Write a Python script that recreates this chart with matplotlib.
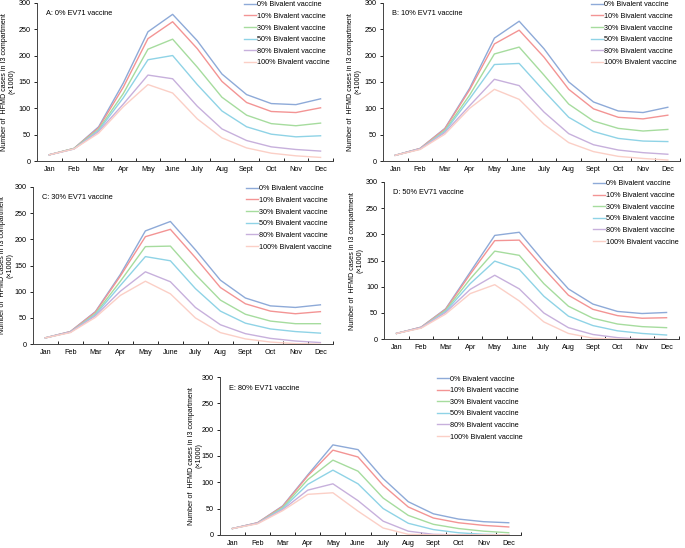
import matplotlib
matplotlib.use('Agg')
import matplotlib.pyplot as plt

plt.rcParams['font.family'] = ['Liberation Sans', 'DejaVu Sans']

months = ['Jan', 'Feb', 'Mar', 'Apr', 'May', 'June', 'July', 'Aug', 'Sept', 'Oct', 'Nov', 'Dec']
series_names = ['0% Bivalent vaccine', '10% Bivalent vaccine', '30% Bivalent vaccine',
                '50% Bivalent vaccine', '80% Bivalent vaccine', '100% Bivalent vaccine']
colors = ['#8eaad8', '#f39494', '#a6dc9e', '#8fd3e6', '#c7b0dc', '#fbcfc6']

# A: 0% EV71 vaccine
panel_a = [
    [12, 24, 65, 148, 245, 278, 228, 165, 126, 109, 107, 118],
    [12, 24, 63, 140, 232, 264, 213, 151, 111, 94, 92, 101],
    [12, 24, 60, 128, 212, 231, 178, 121, 87, 71, 67, 72],
    [12, 23, 58, 120, 192, 200, 145, 95, 65, 51, 46, 48],
    [12, 23, 56, 108, 163, 156, 104, 61, 39, 27, 22, 19],
    [12, 23, 53, 103, 145, 129, 80, 44, 25, 15, 10, 7],
]
# B: 10% EV71 vaccine
panel_b = [
    [11, 24, 62, 138, 233, 265, 213, 150, 112, 95, 92, 102],
    [11, 24, 61, 135, 222, 248, 197, 136, 99, 83, 80, 87],
    [11, 23, 58, 125, 203, 216, 163, 108, 76, 62, 57, 60],
    [11, 23, 56, 118, 183, 185, 133, 83, 56, 43, 38, 37],
    [11, 23, 54, 105, 155, 143, 93, 52, 31, 21, 16, 13],
    [11, 22, 51, 100, 136, 117, 70, 35, 18, 9, 5, 2],
]
# C: 30% EV71 vaccine
panel_c = [
    [12, 24, 62, 133, 216, 234, 180, 122, 88, 73, 70, 75],
    [12, 24, 61, 130, 205, 219, 165, 108, 77, 63, 58, 62],
    [12, 23, 58, 120, 186, 187, 133, 84, 57, 44, 39, 39],
    [12, 23, 56, 112, 167, 159, 106, 63, 40, 29, 24, 21],
    [12, 23, 54, 101, 138, 119, 70, 37, 20, 11, 6, 3],
    [12, 22, 51, 93, 120, 96, 50, 22, 10, 4, 1, 0],
]
# D: 50% EV71 vaccine
panel_d = [
    [11, 23, 58, 128, 198, 204, 148, 96, 67, 53, 49, 51],
    [11, 23, 57, 124, 188, 189, 135, 84, 57, 45, 40, 41],
    [11, 22, 55, 115, 168, 160, 106, 63, 40, 29, 24, 22],
    [11, 22, 53, 106, 149, 133, 82, 44, 26, 16, 11, 8],
    [11, 22, 51, 95, 122, 96, 50, 22, 9, 3, 0, 0],
    [11, 21, 48, 87, 104, 73, 33, 11, 2, 0, 0, 0],
]
# E: 80% EV71 vaccine
panel_e = [
    [12, 23, 55, 114, 171, 162, 107, 63, 40, 30, 25, 23],
    [12, 23, 54, 112, 161, 148, 94, 53, 32, 23, 18, 15],
    [12, 22, 52, 105, 142, 121, 70, 37, 20, 12, 7, 4],
    [12, 22, 50, 96, 123, 97, 50, 22, 10, 4, 1, 0],
    [12, 22, 48, 85, 97, 65, 26, 7, 1, 0, 0, 0],
    [12, 21, 46, 77, 80, 45, 13, 1, 0, 0, 0, 0],
]

# title, data, axes rect, legend x, y-label x (axes fraction)
panels = [
    ('A: 0% EV71 vaccine', panel_a, [0.054, 0.706, 0.432, 0.289], 0.70, -0.071),
    ('B: 10% EV71 vaccine', panel_b, [0.559, 0.706, 0.434, 0.289], 0.70, -0.071),
    ('C: 30% EV71 vaccine', panel_c, [0.048, 0.372, 0.438, 0.287], 0.71, -0.065),
    ('D: 50% EV71 vaccine', panel_d, [0.561, 0.381, 0.430, 0.287], 0.71, -0.071),
    ('E: 80% EV71 vaccine', panel_e, [0.321, 0.024, 0.440, 0.288], 0.72, -0.057),
]

fig = plt.figure(figsize=(6.85, 5.48), dpi=100)
x = list(range(len(months)))

for title, data, rect, leg_x, lab_x in panels:
    ax = fig.add_axes(rect)
    for values, name, c in zip(data, series_names, colors):
        ax.plot(x, values, color=c, lw=1.0, label=name)
    ax.set_xlim(-0.4, 11.4)
    ax.set_ylim(0, 300)
    ax.set_yticks(range(0, 301, 50))
    ax.set_xticks(x)
    ax.set_xticklabels(months)
    ax.set_xticks([i + 0.5 for i in range(-1, 12)], minor=True)
    ax.tick_params(axis='x', which='major', length=0, labelsize=5.2, pad=3.5)
    ax.tick_params(axis='x', which='minor', direction='in', length=2.5, width=0.6)
    ax.tick_params(axis='y', length=2.5, width=0.6, labelsize=5.2, pad=2)
    for s in ['top', 'right']:
        ax.spines[s].set_visible(False)
    for s in ['left', 'bottom']:
        ax.spines[s].set_linewidth(0.7)
        ax.spines[s].set_color('#444444')
    ax.set_ylabel('Number of  HFMD cases in I3 compartment\n(\u00d71000)', fontsize=5.1,
                  linespacing=1.15)
    ax.yaxis.set_label_coords(lab_x, 0.5)
    ax.text(0.03, 0.93, title, transform=ax.transAxes, fontsize=5.3, va='center')
    ax.legend(loc='upper left', bbox_to_anchor=(leg_x, 1.01), frameon=False, fontsize=5.25,
              handlelength=1.65, handletextpad=0.12, labelspacing=0.62, borderaxespad=0,
              borderpad=0)

fig.savefig('out.png', dpi=100)
